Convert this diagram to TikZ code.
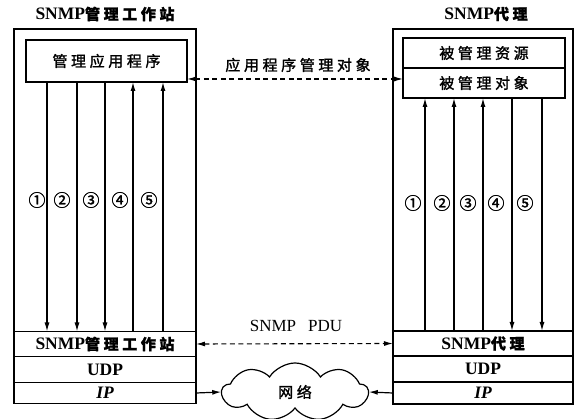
\documentclass[tikz,border=0pt]{standalone}
\usepackage{fontspec}
\setmainfont{Liberation Serif}
\newfontfamily\cjk[LetterSpace=24, FakeBold=1.6]{Noto Sans CJK SC}
\newfontfamily\cjkn[FakeBold=1.4]{Noto Sans CJK SC}
\newcommand\zhs[1]{{\fontsize{15}{17}\selectfont\cjk #1}}
\usetikzlibrary{arrows.meta,shapes.symbols}
\tikzset{
  every node/.style={inner sep=0pt, outer sep=0pt},
  frame/.style={line width=1.2pt},
  layer/.style={draw, line width=1.2pt, font=\fontsize{17.5}{19}\selectfont\bfseries},
  appbox/.style={draw, line width=1.2pt, font=\fontsize{15}{17}\selectfont},
  arr/.style={line width=1.2pt, -{Latex[length=9pt,width=5pt]}},
  darr/.style={line width=1.1pt, dash pattern=on 5pt off 3.5pt, {Latex[length=9pt,width=5pt]}-{Latex[length=9pt,width=5pt]}},
  num/.style={font=\fontsize{17}{18}\selectfont\cjkn},
  lbl/.style={font=\fontsize{15}{17}\selectfont},
  ttl/.style={font=\fontsize{17.5}{19}\selectfont\bfseries}
}
\begin{document}
\begin{tikzpicture}[x=1pt,y=-1pt]
\useasboundingbox (0,0) rectangle (576,419);

% titles
\node[ttl] (ltitle) at (105,14) {SNMP\zhs{管理工作站}};
\node[ttl] (rtitle) at (486,14) {SNMP\zhs{代理}};

% left frame
\draw[frame] (14,332) -- (14,29) -- (196,29) -- (196,332);
\node[appbox, minimum width=161pt, minimum height=42pt] (lapp) at (106.5,61) {\cjk 管理应用程序};

% left stack
\node[layer, minimum width=182pt, minimum height=25pt] (lsnmp) at (105,344) {SNMP\zhs{管理工作站}};
\node[layer, minimum width=182pt, minimum height=26pt] (ludp) at (105,369.5) {UDP};
\node[layer, minimum width=182pt, minimum height=21pt] (lip) at (105,393) {\itshape IP};

% right frame
\draw[frame] (393,331) -- (393,29) -- (573,29) -- (573,331);
\node[appbox, minimum width=162pt, minimum height=30pt] (rres) at (484,53) {\cjk 被管理资源};
\node[appbox, minimum width=162pt, minimum height=30pt] (robj) at (484,83) {\cjk 被管理对象};

% right stack
\node[layer, minimum width=180pt, minimum height=25pt] (rsnmp) at (483,343.5) {SNMP\zhs{代理}};
\node[layer, minimum width=180pt, minimum height=26pt] (rudp) at (483,369) {UDP};
\node[layer, minimum width=180pt, minimum height=22pt] (rip) at (483,393) {\itshape IP};

% left vertical arrows
\foreach \x/\n in {47/1,77/2,105/3}{
  \coordinate (lx\n) at (\x,0);
  \draw[arr] (lx\n |- lapp.south) -- (lx\n |- lsnmp.north);
}
\foreach \x/\n in {133/4,163/5}{
  \coordinate (lx\n) at (\x,0);
  \draw[arr] (lx\n |- lsnmp.north) -- (lx\n |- lapp.south);
}
\node[num] (ln1) at (37,200) {①};
\node[num] (ln2) at (62,200) {②};
\node[num] (ln3) at (91,200) {③};
\node[num] (ln4) at (120,200) {④};
\node[num] (ln5) at (149,200) {⑤};

% right vertical arrows
\foreach \x/\n in {425/1,454/2,483/3}{
  \coordinate (rx\n) at (\x,0);
  \draw[arr] (rx\n |- rsnmp.north) -- (rx\n |- robj.south);
}
\foreach \x/\n in {512/4,542/5}{
  \coordinate (rx\n) at (\x,0);
  \draw[arr] (rx\n |- robj.south) -- (rx\n |- rsnmp.north);
}
\node[num] (rn1) at (413,203) {①};
\node[num] (rn2) at (442,203) {②};
\node[num] (rn3) at (468,203) {③};
\node[num] (rn4) at (496,203) {④};
\node[num] (rn5) at (525,203) {⑤};

% application-level dashed arrow
\coordinate (appy) at (0,79);
\draw[darr] (lapp.east |- appy) -- (robj.west |- appy);
\node[lbl] (applbl) at (298,65) {\cjk 应用程序管理对象};

% PDU dashed arrow
\draw[darr] (lsnmp.east) -- (rsnmp.west);
\node[lbl, font=\fontsize{17}{19}\selectfont] (pdulbl) at (296,326) {SNMP\hspace{12pt}PDU};

% network cloud
\node[cloud, draw, line width=1.2pt, cloud puffs=9, cloud puff arc=115, aspect=2.6,
      minimum width=146pt, minimum height=58pt, font=\fontsize{15}{17}\selectfont] (net) at (295,392) {\cjk 网络};
\draw[arr] (lip.east) -- (net.west);
\draw[arr] (rip.west) -- (net.east);
\end{tikzpicture}
\end{document}
